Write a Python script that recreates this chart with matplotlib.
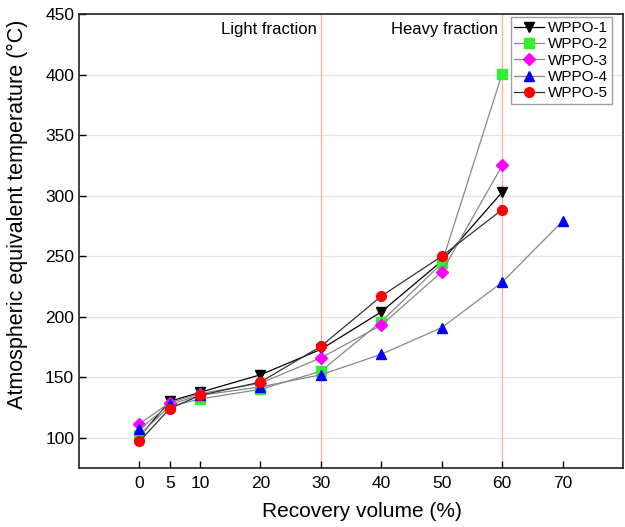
import matplotlib
matplotlib.use("Agg")
import matplotlib.pyplot as plt

plt.rcParams['font.family'] = ['Liberation Sans', 'DejaVu Sans']

x_main = [0, 5, 10, 20, 30, 40, 50, 60]
x_w4 = [0, 5, 10, 20, 30, 40, 50, 60, 70]

wppo1 = [101, 130, 137.5, 152, 173, 204, 246, 303]
wppo2 = [102.5, 126, 132, 140, 155, 196, 244, 401]
wppo3 = [111.5, 129, 136.5, 145, 166, 193, 237, 325]
wppo4 = [107, 127.5, 135, 142, 152, 169, 191, 228.5, 279]
wppo5 = [97, 124, 135, 146, 175.5, 217, 250, 288.5]

series = [
    ("WPPO-1", x_main, wppo1, 'v', 'black', 'black'),
    ("WPPO-2", x_main, wppo2, 's', '#33ee33', '#888888'),
    ("WPPO-3", x_main, wppo3, 'D', '#ff00ff', '#888888'),
    ("WPPO-4", x_w4, wppo4, '^', '#0000ff', '#888888'),
    ("WPPO-5", x_main, wppo5, 'o', '#ff0000', '#333333'),
]

xticks = [0, 5, 10, 20, 30, 40, 50, 60, 70]
yticks = [100, 150, 200, 250, 300, 350, 400, 450]

fig = plt.figure(figsize=(6.25, 5.27), dpi=100)
ax = fig.add_axes([0.1264, 0.112, 0.8706, 0.861])

for y in yticks:
    ax.axhline(y, color='#e3e3e3', lw=0.9, zorder=0)
for xv in [30, 60]:
    ax.axvline(xv, color='#ffaaaa', lw=0.9, zorder=1)

for name, xs, ys, m, mc, lc in series:
    ms = 7 if m != 'D' else 6
    ax.plot(xs, ys, color=lc, lw=0.9, marker=m, markersize=ms,
            markerfacecolor=mc, markeredgecolor=mc, label=name, zorder=3)

ax.set_xlim(-10, 80)
ax.set_ylim(75, 450)
ax.set_xticks(xticks)
ax.set_yticks(yticks)
ax.tick_params(direction='in', length=5, width=1, labelsize=12.5, top=False, right=False)
ax.tick_params(axis='x', pad=6)
for s in ax.spines.values():
    s.set_linewidth(1.2)
    s.set_color('#222222')

ax.text(29.3, 437, "Light fraction", ha='right', va='center', fontsize=12)
ax.text(59.3, 437, "Heavy fraction", ha='right', va='center', fontsize=12)

ax.set_xlabel("Recovery volume (%)", fontsize=15, labelpad=6)
ax.set_ylabel("Atmospheric equivalent temperature (°C)", fontsize=15.5, labelpad=5)
ax.xaxis.set_label_coords(0.52, -0.075)
ax.yaxis.set_label_coords(-0.094, 0.56)

leg = ax.legend(loc='upper right', bbox_to_anchor=(0.985, 1.0), fontsize=11,
                frameon=True, fancybox=False, edgecolor='#888888',
                handlelength=1.9, handletextpad=0.3, borderpad=0.25,
                labelspacing=0.15, borderaxespad=0.2)
leg.get_frame().set_linewidth(1.0)

fig.savefig("out.png", dpi=100)
